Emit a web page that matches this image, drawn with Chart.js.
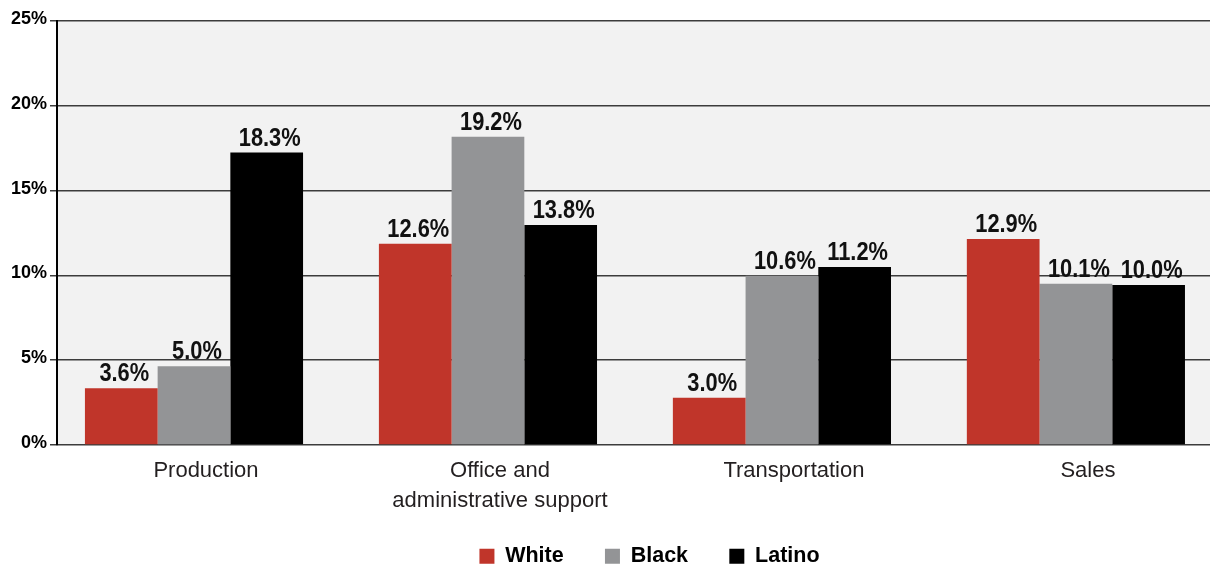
<!DOCTYPE html>
<html>
<head>
<meta charset="utf-8">
<script src="https://cdn.jsdelivr.net/npm/chart.js@4.4.1/dist/chart.umd.min.js"></script>
<style>
html,body{margin:0;padding:0;background:#fff;overflow:hidden;width:1210px;height:571px}
#wrap{width:1242px;height:571px}
</style>
</head>
<body>
<div id="wrap"><canvas id="c" width="1242" height="571"></canvas></div>
<script>
// Categories
const categories = ['Production', ['Office and', 'administrative support'], 'Transportation', 'Sales'];
const seriesNames = ['White', 'Black', 'Latino'];
// Bar heights as read against the axis
const whiteValues  = [3.35, 11.87, 2.78, 12.14];
const blackValues  = [4.64, 18.17, 9.98, 9.51];
const latinoValues = [17.24, 12.97, 10.49, 9.43];
// Printed value labels
const whiteLabels  = ['3.6%', '12.6%', '3.0%', '12.9%'];
const blackLabels  = ['5.0%', '19.2%', '10.6%', '10.1%'];
const latinoLabels = ['18.3%', '13.8%', '11.2%', '10.0%'];
// Axis ticks
const yTicks = [0, 5, 10, 15, 20, 25];
const yTickLabels = ['0%', '5%', '10%', '15%', '20%', '25%'];

const colors = ['#c0352a', '#939496', '#000000'];
const allValues = [whiteValues, blackValues, latinoValues];
const allLabels = [whiteLabels, blackLabels, latinoLabels];

const bgPlugin = {
  id: 'plotBg',
  beforeDraw(chart) {
    const {ctx, chartArea: a} = chart;
    ctx.save();
    ctx.fillStyle = '#f2f2f2';
    ctx.fillRect(a.left, a.top, a.right - a.left, a.bottom - a.top);
    ctx.restore();
  }
};

const valueLabelPlugin = {
  id: 'valueLabels',
  afterDatasetsDraw(chart) {
    const ctx = chart.ctx;
    chart.data.datasets.forEach((ds, di) => {
      const meta = chart.getDatasetMeta(di);
      meta.data.forEach((el, i) => {
        ctx.save();
        ctx.font = 'bold 26px "Liberation Sans", Arial, sans-serif';
        ctx.fillStyle = '#111111';
        ctx.textAlign = 'center';
        ctx.textBaseline = 'alphabetic';
        ctx.translate(el.x + 3, el.y - 7);
        ctx.scale(0.84, 1);
        ctx.fillText(allLabels[di][i], 0, 0);
        ctx.restore();
      });
    });
  }
};

new Chart(document.getElementById('c'), {
  type: 'bar',
  data: {
    datasets: seriesNames.map((name, di) => ({
      label: name,
      data: allValues[di].map((v, i) => ({x: i, y: v})),
      backgroundColor: colors[di],
      borderWidth: 0,
      categoryPercentage: 0.742,
      barPercentage: 1.0
    }))
  },
  options: {
    responsive: false,
    animation: false,
    devicePixelRatio: 1,
    layout: {padding: {top: 21, left: 0, right: 0, bottom: -6}},
    plugins: {
      legend: {
        position: 'bottom',
        fullSize: false,
        labels: {
          boxWidth: 15,
          boxHeight: 15,
          padding: 29.3,
          color: '#000',
          font: {family: '"Liberation Sans", Arial, sans-serif', size: 21.5, weight: 'bold'},
          generateLabels: (chart) => chart.data.datasets.map((ds, i) => ({
            text: i < chart.data.datasets.length - 1 ? ds.label + '\u00a0\u00a0' : ds.label,
            fillStyle: ds.backgroundColor,
            strokeStyle: ds.backgroundColor,
            lineWidth: 0,
            hidden: false,
            datasetIndex: i,
            fontColor: '#000'
          }))
        }
      },
      tooltip: {enabled: false},
      title: {display: false}
    },
    scales: {
      x: {
        type: 'linear',
        min: -0.466,
        max: 3.565,
        offset: false,
        grid: {display: false, drawTicks: false},
        border: {display: false},
        afterBuildTicks: s => { s.ticks = categories.map((c, i) => ({value: i})); },
        afterFit: s => { s.height = 71.2; },
        ticks: {
          autoSkip: false,
          maxRotation: 0,
          minRotation: 0,
          padding: 11.2,
          labelOffset: 12,
          color: '#231f20',
          font: {family: '"Liberation Sans", Arial, sans-serif', size: 22, lineHeight: 1.364},
          callback: v => categories[v]
        }
      },
      y: {
        min: 0,
        max: 25,
        afterBuildTicks: s => { s.ticks = yTicks.map(v => ({value: v})); },
        afterFit: s => { s.width = 57; },
        grid: {color: '#3c3c3c', lineWidth: 1.5, tickLength: 7, drawTicks: true},
        border: {color: '#000', width: 2},
        ticks: {
          padding: 3,
          labelOffset: -2,
          color: '#000',
          font: {family: '"Liberation Sans", Arial, sans-serif', size: 18, weight: 'bold'},
          callback: (v) => yTickLabels[yTicks.indexOf(v)]
        }
      }
    }
  },
  plugins: [bgPlugin, valueLabelPlugin]
});
</script>
</body>
</html>
